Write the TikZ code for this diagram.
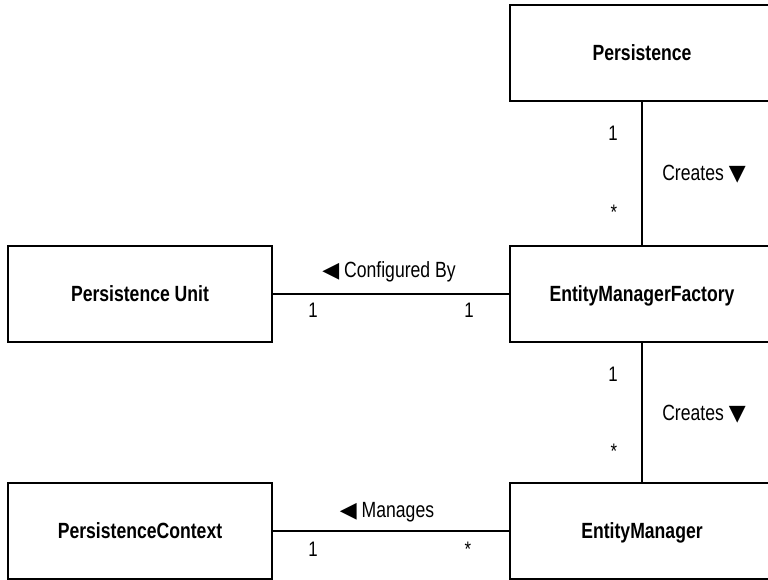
\documentclass[tikz,border=0pt]{standalone}
\usepackage{fontspec}
\setmainfont{Liberation Sans}[FakeStretch=0.8]
\newfontfamily\symfont{DejaVu Sans}
\newcommand{\tri}[1]{{\symfont\fontsize{22}{24}\selectfont #1}}
\begin{document}
\begin{tikzpicture}[x=1pt,y=-1pt,
  box/.style={draw,line width=2pt,minimum width=264pt,minimum height=96pt,inner sep=0pt,
    font=\fontsize{22}{26}\selectfont\bfseries,text height=15.7pt,text depth=0pt},
  conn/.style={line width=2pt},
  lbl/.style={font=\fontsize{22}{26}\selectfont,inner sep=0pt,anchor=base},
  mult/.style={font=\fontsize{21}{26}\selectfont,inner sep=0pt,anchor=base}]
\useasboundingbox (0,0) rectangle (768,580);
\node[box] (pers) at (642,53) {Persistence};
\node[box] (emf) at (642,294) {EntityManagerFactory};
\node[box] (em) at (642,531) {EntityManager};
\node[box] (pu) at (140,294) {Persistence Unit};
\node[box] (pc) at (140,531) {PersistenceContext};
\draw[conn] (pers.south) -- (emf.north);
\draw[conn] (emf.south) -- (em.north);
\draw[conn] (pu.east) -- (emf.west);
\draw[conn] (pc.east) -- (em.west);
\node[lbl] (cr1) at (704,181) {Creates \tri{▼}};
\node[lbl] (cr2) at (704,420) {Creates \tri{▼}};
\node[lbl] (cfg) at (389,277) {\tri{◀} Configured By};
\node[lbl] (mng) at (387,517) {\tri{◀} Manages};
\node[mult] (m1) at (613,141) {1};
\node[mult] (m2) at (614,219) {*};
\node[mult] (m3) at (613,381) {1};
\node[mult] (m4) at (614,458) {*};
\node[mult] (m5) at (313,317) {1};
\node[mult] (m6) at (469,317) {1};
\node[mult] (m7) at (313,556) {1};
\node[mult] (m8) at (468,556) {*};
\end{tikzpicture}
\end{document}
